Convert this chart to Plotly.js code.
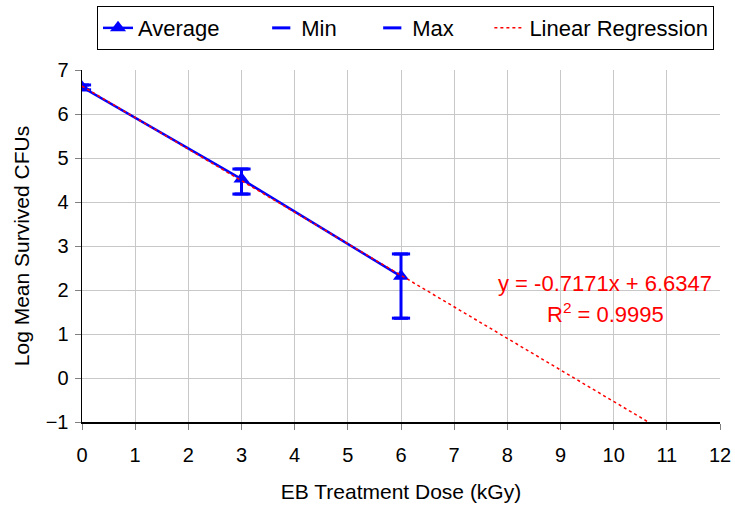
<!DOCTYPE html>
<html>
<head>
<meta charset="utf-8">
<script src="https://cdn.plot.ly/plotly-3.0.1.min.js"></script>
<style>html,body{margin:0;padding:0;background:#fff;}#chart{width:735px;height:506px;}</style>
</head>
<body>
<div id="chart"></div>
<script>
var doses = [0, 3, 6];
var average = [6.61, 4.52, 2.31];
var minVals = [6.55, 4.18, 1.36];
var maxVals = [6.66, 4.75, 2.82];
var regX = [0, 10.65];
var regY = [6.635, -1.0];
var seriesNames = ["Average", "Min", "Max", "Linear Regression"];
var eqText = "y = -0.7171x + 6.6347";
var r2Text = "R<sup>2</sup> = 0.9995";
var xTicks = [0,1,2,3,4,5,6,7,8,9,10,11,12];
var yTicks = [-1,0,1,2,3,4,5,6,7];

var blue = "#0000FF";
var nb = function(n){ return new Array(n + 1).join("\u00a0"); };
var errPlus = maxVals.map(function(v,i){return v - average[i];});
var errMinus = average.map(function(v,i){return v - minVals[i];});

var traces = [
  {x: doses, y: average, name: seriesNames[0] + nb(6), mode: "lines+markers", type: "scatter",
   line: {color: blue, width: 2.5},
   marker: {symbol: "triangle-up", size: 14, color: blue},
   error_y: {type: "data", symmetric: false, array: errPlus, arrayminus: errMinus,
             color: blue, thickness: 3, width: 7}},
  {x: doses, y: minVals, name: seriesNames[1] + nb(5), mode: "markers", type: "scatter",
   marker: {symbol: "line-ew", size: 13, line: {color: blue, width: 3}}},
  {x: doses, y: maxVals, name: seriesNames[2] + nb(5), mode: "markers", type: "scatter",
   marker: {symbol: "line-ew", size: 13, line: {color: blue, width: 3}}},
  {x: regX, y: regY, name: seriesNames[3], mode: "lines", type: "scatter",
   line: {color: "#FF0000", width: 1.5, dash: "dot"}}
];

var layout = {
  width: 735, height: 506,
  margin: {l: 82, r: 15, t: 70, b: 84},
  paper_bgcolor: "#fff", plot_bgcolor: "#fff",
  font: {family: "Liberation Sans, Arial, sans-serif", size: 20, color: "#000"},
  showlegend: true,
  legend: {orientation: "h", x: 0.132, xanchor: "left", y: 0.988, yanchor: "top",
           xref: "container", yref: "container",
           bordercolor: "#000", borderwidth: 1, bgcolor: "#fff",
           font: {size: 22}, traceorder: "normal"},
  xaxis: {range: [0, 12], tickvals: xTicks, showgrid: true, gridcolor: "#c8c8c8", gridwidth: 1,
          zeroline: false, showline: true, linecolor: "#000", linewidth: 1.5,
          ticks: "outside", ticklen: 6, tickcolor: "#808080",
          tickfont: {size: 20}, ticklabelstandoff: 8,
          title: {text: "EB Treatment Dose (kGy)", font: {size: 21}, standoff: 20}},
  yaxis: {range: [-1, 7], tickvals: yTicks, showgrid: true, gridcolor: "#c8c8c8", gridwidth: 1,
          zeroline: false, showline: true, linecolor: "#000", linewidth: 1.5,
          ticks: "outside", ticklen: 6, tickcolor: "#808080",
          tickfont: {size: 20}, ticklabelstandoff: 2,
          title: {text: "Log Mean Survived CFUs", font: {size: 21}, standoff: 10}},
  annotations: [
    {x: 9.84, y: 2.14, xref: "x", yref: "y", text: eqText, showarrow: false,
     font: {color: "#FF0000", size: 22}, xanchor: "center", yanchor: "middle"},
    {x: 9.84, y: 1.48, xref: "x", yref: "y", text: r2Text, showarrow: false,
     font: {color: "#FF0000", size: 22}, xanchor: "center", yanchor: "middle"}
  ]
};

Plotly.newPlot("chart", traces, layout, {displayModeBar: false, staticPlot: true});
</script>
</body>
</html>
